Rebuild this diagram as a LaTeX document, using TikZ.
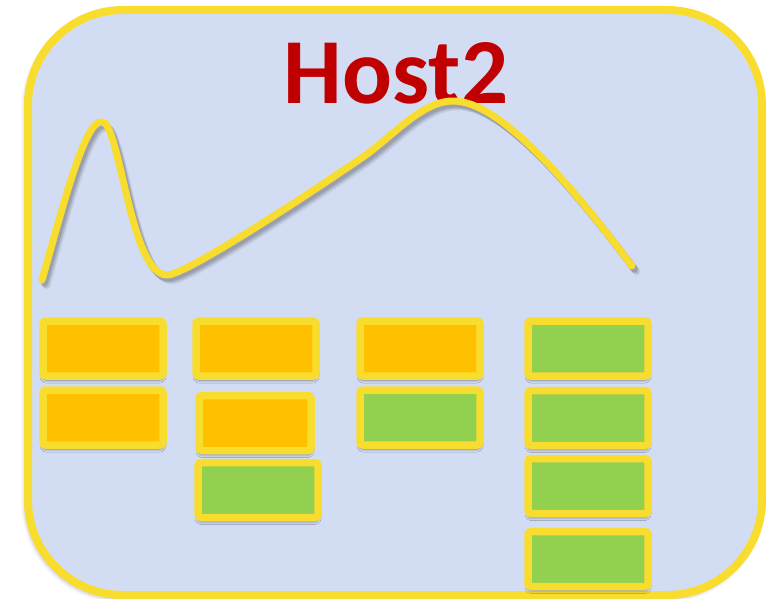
\documentclass[tikz,border=0pt]{standalone}
\usepackage{fontspec}
\setmainfont{Carlito}
\usetikzlibrary{shadows.blur}
\definecolor{hostfill}{HTML}{D2DDF4}
\definecolor{hostline}{HTML}{F9DD2E}
\definecolor{taskorange}{HTML}{FFC000}
\definecolor{taskgreen}{HTML}{92D050}
\definecolor{titlered}{HTML}{C00000}
\tikzset{
  slot/.style={draw=hostline, line width=7.5pt, rounded corners=3pt,
    minimum width=120pt, minimum height=55pt, inner sep=0pt, outer sep=0pt,
    blur shadow={shadow xshift=0pt, shadow yshift=-4pt, shadow blur radius=3pt, shadow opacity=45}},
  busy/.style={slot, fill=taskorange},
  idle/.style={slot, fill=taskgreen},
  load/.style={hostline, line width=7pt, line cap=round, line join=round},
}
% load curve: narrow spike, dip, slow climb to a broad hump, then a falling tail
\def\loadcurve{(42,280) .. controls (62,210) and (85,118) .. (102,122)
  .. controls (120,122) and (130,275) .. (167,275)
  .. controls (185,275) and (300,200) .. (357,161)
  .. controls (390,140) and (420,101) .. (453,101)
  .. controls (490,101) and (545,150) .. (632,266)}
\begin{document}
\begin{tikzpicture}[x=1pt, y=-1pt]
\useasboundingbox (0,0) rectangle (773,599);

% host frame
\node[draw=hostline, fill=hostfill, line width=8pt, rounded corners=95pt,
  minimum width=734pt, minimum height=585pt, inner sep=0pt, outer sep=0pt,
  blur shadow={shadow xshift=-2pt, shadow yshift=-3pt, shadow blur radius=5pt, shadow opacity=40}]
  (host) at (395,302.5) {};

% title
\node[anchor=base, text=titlered, inner sep=0pt]
  (title) at (396,103) {\fontsize{93}{93}\bfseries Host2};

% load curve with its soft shadow
\foreach \dx/\dy/\op in {5/6/0.08, 4/5/0.12, 3/4/0.16, 2/3/0.2}{
  \draw[gray!70!black, line width=7pt, line cap=round, opacity=\op, shift={(\dx,\dy)}] \loadcurve;
}
\draw[load] \loadcurve;

% column 1
\node[busy] (a1) at (103,348.5) {};
\node[busy] (a2) at (103,417.5) {};
% column 2
\node[busy] (b1) at (256,348.5) {};
\node[busy, minimum width=112pt] (b2) at (255,423) {};
\node[idle] (b3) at (258,490) {};
% column 3
\node[busy] (c1) at (420,348.5) {};
\node[idle] (c2) at (420,417.5) {};
% column 4
\node[idle] (d1) at (588,348.5) {};
\node[idle] (d2) at (588,418) {};
\node[idle] (d3) at (588,486) {};
\node[idle] (d4) at (588,559) {};
\end{tikzpicture}
\end{document}
